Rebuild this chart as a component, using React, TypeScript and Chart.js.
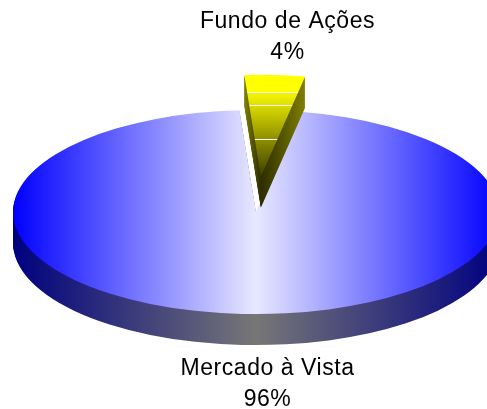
import React, { useEffect, useRef } from "react";
import { Chart, registerables } from "chart.js";

Chart.register(...registerables);

const categories = ["Mercado à Vista", "Fundo de Ações"];
const shares = [96, 4];
const percentLabels = ["96%", "4%"];

const W = 487;
const H = 409;
const SQUASH = 0.42;
const DEPTH = 31;
const RADIUS = 243;
const START_DEG = 10.5;
const EXPLODE = [0, 84];
const LABEL_POS = [
  { x: 267.5, y: 375, dy: 31 },
  { x: 287.5, y: 28, dy: 31 },
];

export default function App() {
  const ref = useRef<HTMLCanvasElement>(null);
  useEffect(() => {
    const canvas = ref.current!;
    const g = canvas.getContext("2d")!;
    const cx = 256;
    const cy = 212;

    const h = (c0: string, c1: string) => {
      const gr = g.createLinearGradient(cx - RADIUS, 0, cx + RADIUS, 0);
      gr.addColorStop(0, c0);
      gr.addColorStop(0.5, c1);
      gr.addColorStop(1, c0);
      return gr;
    };
    const blueTop = h("#0000ff", "#e8e8ff");
    const blueSide = h("#000080", "#777777");

    const yellowTop = g.createLinearGradient(0, cy - RADIUS, 0, cy);
    const stops: [number, string][] = [
      [0, "#ffff00"],
      [0.165, "#ffff00"], [0.168, "#ffffff"], [0.178, "#ffffff"], [0.181, "#f4f400"],
      [0.295, "#e0e000"], [0.298, "#ffffff"], [0.308, "#ffffff"], [0.311, "#d8d800"],
      [0.625, "#909000"], [0.628, "#ffffff"], [0.638, "#ffffff"], [0.641, "#8c8c00"],
      [1, "#3c3c00"],
    ];
    stops.forEach(([o, c]) => yellowTop.addColorStop(o, c));
    const yellowSide = g.createLinearGradient(0, cy - RADIUS, 0, cy);
    yellowSide.addColorStop(0, "#808000");
    yellowSide.addColorStop(1, "#2c2c00");

    const tops = [blueTop, yellowTop];
    const sides = [blueSide, yellowSide];

    const tiltPlugin = {
      id: "tilt",
      beforeDatasetDraw(chart: any, args: any) {
        const ctx = chart.ctx;
        args.meta.data.forEach((arc: any, i: number) => {
          const base = arc.options;
          const mid = (arc.startAngle + arc.endAngle) / 2;
          const shift = base.offset || 0;
          const paint = (d: number, fill: any) => {
            arc.options = Object.assign(Object.create(base), { backgroundColor: fill, borderWidth: 0, offset: 0 });
            ctx.save();
            ctx.translate(0, arc.y + d);
            ctx.scale(1, SQUASH);
            ctx.translate(Math.cos(mid) * shift, Math.sin(mid) * shift - arc.y);
            arc.draw(ctx);
            ctx.restore();
            arc.options = base;
          };
          for (let d = DEPTH; d >= 1; d--) paint(d, sides[i]);
          paint(0, tops[i]);
        });
        return false;
      },
      afterDraw(chart: any) {
        const ctx = chart.ctx;
        ctx.save();
        ctx.fillStyle = "#000";
        ctx.font = "23px 'Liberation Sans'";
        ctx.letterSpacing = "0.55px";
        ctx.textAlign = "center";
        ctx.textBaseline = "alphabetic";
        categories.forEach((c, i) => {
          const p = LABEL_POS[i];
          ctx.fillText(c, p.x, p.y);
          ctx.fillText(percentLabels[i], p.x, p.y + p.dy);
        });
        ctx.restore();
      },
    };

    const chart = new Chart(canvas, {
      type: "pie",
      data: {
        labels: categories,
        datasets: [
          {
            data: shares,
            backgroundColor: tops,
            borderWidth: 0,
            offset: EXPLODE,
            radius: RADIUS,
            cutout: "0%",
            rotation: START_DEG,
          } as any,
        ],
      },
      options: {
        responsive: false,
        animation: false,
        events: [],
        layout: { padding: { left: 25, top: 15, right: 0, bottom: 0 } },
        plugins: { legend: { display: false }, tooltip: { enabled: false }, title: { display: false } },
      } as any,
      plugins: [tiltPlugin],
    });
    return () => chart.destroy();
  }, []);
  return (
    <canvas
      ref={ref}
      width={W}
      height={H}
      style={{ position: "absolute", left: 0, top: 0, width: W, height: H, display: "block" }}
    />
  );
}
